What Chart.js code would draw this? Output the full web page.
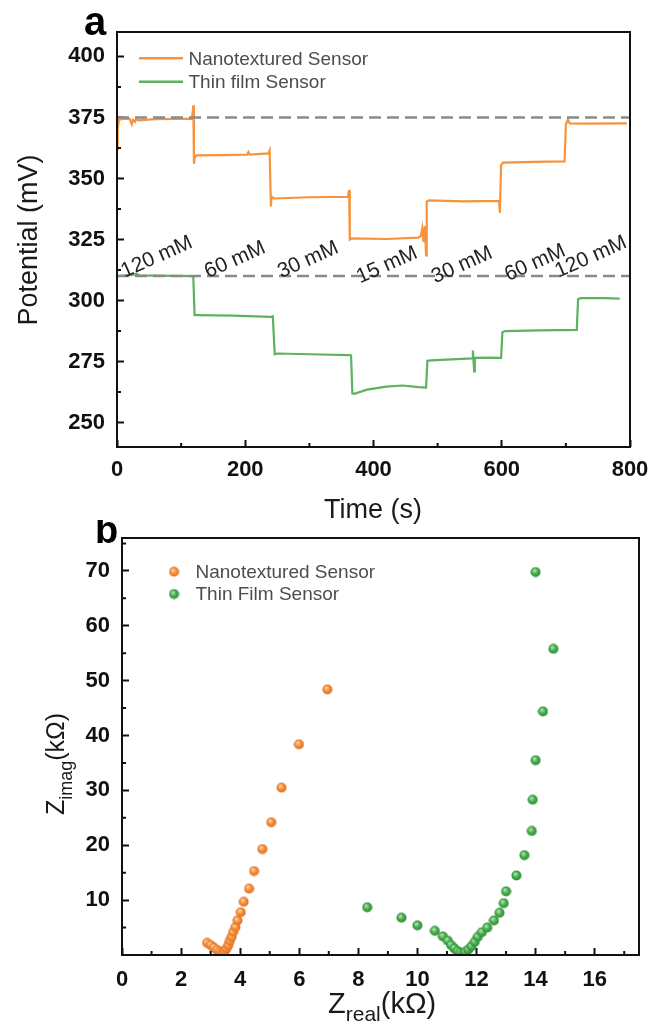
<!DOCTYPE html>
<html>
<head>
<meta charset="utf-8">
<script src="https://cdn.jsdelivr.net/npm/chart.js@4.4.1/dist/chart.umd.min.js"></script>
<style>
  html, body { margin: 0; padding: 0; background: #fff; }
  body { width: 649px; height: 1026px; position: relative; overflow: hidden; }
  canvas { position: absolute; left: 0; }
  #potential { top: 0; }
  #nyquist { top: 520px; }
</style>
</head>
<body>
<canvas id="potential" width="649" height="530"></canvas>
<canvas id="nyquist" width="649" height="506"></canvas>
<script>
// (a) potential vs time while stepping the concentration
const nanoTime = [0, 1, 3, 10, 20, 23, 25, 28, 30, 33, 60, 117, 119, 120, 121, 124, 160, 203, 205, 207,
  236, 238, 240, 241, 245, 300, 360, 362, 363, 366, 420, 470, 474, 476, 478, 480, 482, 483, 486, 540,
  596, 597, 599, 602, 650, 698, 700, 703, 706, 730, 795];
const nanoPotential = [362, 370, 374, 374.5, 374.3, 372.2, 374, 373.2, 374.6, 373.8, 374.3, 374.5, 380, 356, 358.5, 359.5, 359.6, 359.8, 360.8, 359.8,
  360.3, 361.5, 338.5, 342.5, 341.8, 342.3, 342.5, 345.3, 325, 325.5, 325.2, 325.8, 326.5, 329.5, 324, 330.5, 318.5, 340.5, 341, 340.6,
  340.8, 336, 355.5, 356.5, 356.8, 357, 372, 374.2, 372.6, 372.5, 372.6];
const thinTime = [0, 25, 30, 35, 117, 119, 121, 124, 180, 241, 243, 246, 250, 300, 363, 365, 367, 370, 390, 420,
  445, 470, 482, 484, 490, 530, 554, 555, 557, 558, 580, 599, 601, 605, 660, 717, 719, 723, 760, 784];
const thinPotential = [310, 310.5, 311, 310.3, 310, 309.5, 294, 294, 293.8, 293.3, 293.5, 278, 278.3, 278, 277.6, 277.5, 262, 261.8, 263.5, 264.7,
  265.2, 264.5, 264.3, 275.3, 275.5, 276, 276.3, 279.5, 271, 276.5, 276.6, 276.5, 287, 287.5, 287.8, 288, 300.5, 301, 301, 300.8];
const baselineLevels = [375, 310];
const stepLabels = ['120 mM', '60 mM', '30 mM', '15 mM', '30 mM', '60 mM', '120 mM'];
const stepLabelTime = [62, 184, 298, 421, 538, 652, 739];
const stepLabelPotential = [317.8, 316.6, 316.6, 314.5, 314.5, 315.4, 317.8];
const timeTicks = [0, 200, 400, 600, 800];
const potentialTicks = [250, 275, 300, 325, 350, 375, 400];

// (b) Nyquist plots
const nanoZreal = [2.88, 3.00, 3.11, 3.22, 3.31, 3.38, 3.43, 3.48, 3.54, 3.60, 3.65, 3.71, 3.76, 3.84, 3.91, 4.02, 4.12, 4.30, 4.47, 4.75, 5.05, 5.40, 5.99, 6.95];
const nanoZimag = [2.2, 1.8, 1.35, 0.9, 0.55, 0.35, 0.4, 0.7, 1.2, 1.8, 2.6, 3.3, 4.2, 5.1, 6.3, 7.8, 9.7, 12.1, 15.3, 19.3, 24.2, 30.5, 38.4, 48.4];
const thinZreal = [8.30, 9.46, 10.00, 10.59, 10.86, 11.03, 11.14, 11.25, 11.36, 11.45, 11.55, 11.62, 11.72, 11.83, 11.94, 12.04, 12.18, 12.36, 12.59, 12.78,
  12.92, 13.00, 13.35, 13.62, 13.87, 13.90, 14.00, 14.25, 14.60, 14.00];
const thinZimag = [8.7, 6.8, 5.4, 4.4, 3.4, 2.6, 1.8, 1.2, 0.7, 0.4, 0.3, 0.55, 1.0, 1.6, 2.4, 3.3, 4.15, 5.0, 6.3, 7.7,
  9.45, 11.6, 14.5, 18.2, 22.6, 28.3, 35.5, 44.4, 55.8, 69.8];
const zRealTicks = [0, 2, 4, 6, 8, 10, 12, 14, 16];
const zImagTicks = [10, 20, 30, 40, 50, 60, 70];

const FONT = "'Liberation Sans', Arial, sans-serif";
const ORANGE = '#f7933c';
const GREEN = '#5cb25e';

function pairs(xs, ys) {
  return xs.map((x, i) => ({ x: x, y: ys[i] }));
}

// small shaded ball used as the scatter marker
function ball(light, base, dark) {
  const c = document.createElement('canvas');
  c.width = c.height = 11;
  const g = c.getContext('2d');
  const grad = g.createRadialGradient(4.2, 3.8, 0.4, 5.5, 5.5, 5.6);
  grad.addColorStop(0, light);
  grad.addColorStop(0.5, base);
  grad.addColorStop(1, dark);
  g.fillStyle = grad;
  g.beginPath();
  g.arc(5.5, 5.5, 5, 0, Math.PI * 2);
  g.fill();
  return c;
}
const orangeBall = ball('#ffd2a8', '#f28a36', '#dc6e22');
const greenBall = ball('#b0e4b0', '#45aa4a', '#2a8a30');

function axis(min, max, tickValues, size, pad) {
  return {
    type: 'linear',
    min: min,
    max: max,
    ticks: {
      autoSkip: false,
      maxRotation: 0,
      padding: pad,
      color: '#111',
      font: { family: FONT, size: 22, weight: 'bold' }
    },
    grid: { drawOnChartArea: false, tickLength: -7, tickWidth: 2, tickColor: '#111' },
    border: { display: false },
    afterBuildTicks: function (s) {
      s.ticks = tickValues.map(v => ({ value: v }));
    },
    afterFit: function (s) {
      if (s.isHorizontal()) s.height = size; else s.width = size;
      s.paddingLeft = s.paddingRight = s.paddingTop = s.paddingBottom = 0;
    }
  };
}

// box around the plot area plus the short minor ticks
const framePlugin = {
  id: 'frame',
  afterDatasetsDraw(chart, args, opts) {
    const { ctx, chartArea: a } = chart;
    const x = chart.scales.x, y = chart.scales.y;
    ctx.save();
    ctx.strokeStyle = '#111';
    ctx.lineWidth = 2;
    ctx.beginPath();
    for (let v = opts.minorX[0]; v < x.max; v += opts.minorX[1]) {
      const px = x.getPixelForValue(v);
      ctx.moveTo(px, a.bottom);
      ctx.lineTo(px, a.bottom - 4);
    }
    for (let v = opts.minorY[0]; v < y.max; v += opts.minorY[1]) {
      const py = y.getPixelForValue(v);
      ctx.moveTo(a.left, py);
      ctx.lineTo(a.left + 4, py);
    }
    ctx.stroke();
    ctx.strokeRect(a.left, a.top, a.right - a.left, a.bottom - a.top);
    ctx.restore();
  }
};

// legend drawn inside the plot area
const insetLegend = {
  id: 'insetLegend',
  afterDraw(chart, args, opts) {
    const { ctx, chartArea: a } = chart;
    ctx.save();
    ctx.font = '19px ' + FONT;
    ctx.fillStyle = '#4d4d4d';
    ctx.textBaseline = 'middle';
    opts.items.forEach((idx, i) => {
      const ds = chart.data.datasets[idx];
      const yy = a.top + opts.y + i * opts.dy;
      if (opts.kind === 'line') {
        ctx.strokeStyle = ds.borderColor;
        ctx.lineWidth = 2.5;
        ctx.beginPath();
        ctx.moveTo(a.left + opts.x0, yy);
        ctx.lineTo(a.left + opts.x1, yy);
        ctx.stroke();
      } else {
        const img = ds.pointStyle;
        ctx.drawImage(img, a.left + opts.x0 - img.width / 2, yy - img.height / 2);
      }
      ctx.fillText(ds.label, a.left + opts.textX, yy + 1);
    });
    ctx.restore();
  }
};

// free text: panel letters and axis titles (with subscripts)
const panelText = {
  id: 'panelText',
  afterDraw(chart, args, opts) {
    const ctx = chart.ctx;
    opts.items.forEach(it => {
      ctx.save();
      ctx.translate(it.x, it.y);
      if (it.rotate) ctx.rotate(it.rotate);
      ctx.fillStyle = it.color || '#1a1a1a';
      ctx.textBaseline = 'alphabetic';
      ctx.textAlign = it.align || 'left';
      let cx = 0;
      it.parts.forEach(p => {
        ctx.font = p.font;
        ctx.fillText(p.text, cx, p.dy || 0);
        cx += ctx.measureText(p.text).width;
      });
      ctx.restore();
    });
  }
};

// rotated concentration labels placed in data coordinates
const stepLabelPlugin = {
  id: 'stepLabels',
  afterDatasetsDraw(chart) {
    const { ctx } = chart;
    const x = chart.scales.x, y = chart.scales.y;
    ctx.save();
    ctx.font = '21px ' + FONT;
    ctx.fillStyle = '#222';
    ctx.textAlign = 'center';
    ctx.textBaseline = 'middle';
    stepLabels.forEach((txt, i) => {
      ctx.save();
      ctx.translate(x.getPixelForValue(stepLabelTime[i]), y.getPixelForValue(stepLabelPotential[i]));
      ctx.rotate(-24 * Math.PI / 180);
      ctx.fillText(txt, 0, 0);
      ctx.restore();
    });
    ctx.restore();
  }
};

Chart.register(framePlugin, insetLegend, panelText, stepLabelPlugin);

new Chart(document.getElementById('potential'), {
  type: 'line',
  data: {
    datasets: baselineLevels.map(v => ({
      label: 'baseline',
      data: [{ x: 0, y: v }, { x: 800, y: v }],
      borderColor: '#8a8a8a',
      borderDash: [12, 6],
      borderWidth: 2.5,
      pointRadius: 0
    })).concat([
      {
        label: 'Nanotextured Sensor',
        data: pairs(nanoTime, nanoPotential),
        borderColor: ORANGE,
        borderWidth: 2.2,
        pointRadius: 0
      },
      {
        label: 'Thin film Sensor',
        data: pairs(thinTime, thinPotential),
        borderColor: GREEN,
        borderWidth: 2.2,
        pointRadius: 0
      }
    ])
  },
  options: {
    responsive: false,
    animation: false,
    layout: { padding: { left: 0, top: 32, right: 19, bottom: 0 } },
    scales: {
      x: axis(0, 800, timeTicks, 83, 17),
      y: axis(240, 410, potentialTicks, 117, 19)
    },
    plugins: {
      legend: { display: false },
      tooltip: { enabled: false },
      frame: { minorX: [100, 200], minorY: [262.5, 25] },
      stepLabels: {},
      insetLegend: { kind: 'line', items: [2, 3], x0: 22, x1: 66, textX: 71.5, y: 26.3, dy: 23.4 },
      panelText: {
        items: [
          { x: 84, y: 35, parts: [{ text: 'a', font: 'bold 40px ' + FONT }], color: '#000' },
          { x: 373, y: 518, align: 'center', parts: [{ text: 'Time (s)', font: '27px ' + FONT }] },
          { x: 37, y: 240, rotate: -Math.PI / 2, align: 'center', parts: [{ text: 'Potential (mV)', font: '27px ' + FONT }] }
        ]
      }
    }
  }
});

new Chart(document.getElementById('nyquist'), {
  type: 'scatter',
  data: {
    datasets: [
      {
        label: 'Nanotextured Sensor',
        data: pairs(nanoZreal, nanoZimag),
        pointStyle: orangeBall,
        pointRadius: 5
      },
      {
        label: 'Thin Film Sensor',
        data: pairs(thinZreal, thinZimag),
        pointStyle: greenBall,
        pointRadius: 5
      }
    ]
  },
  options: {
    responsive: false,
    animation: false,
    layout: { padding: { left: 0, top: 18, right: 10, bottom: 0 } },
    scales: {
      x: axis(0, 17.5, zRealTicks, 71, 19),
      y: axis(0, 76, zImagTicks, 122, 19)
    },
    plugins: {
      legend: { display: false },
      tooltip: { enabled: false },
      frame: { minorX: [1, 2], minorY: [5, 10] },
      insetLegend: { kind: 'point', items: [0, 1], x0: 52, textX: 73.5, y: 33.7, dy: 22.3 },
      panelText: {
        items: [
          { x: 95, y: 23, parts: [{ text: 'b', font: 'bold 38px ' + FONT }], color: '#000' },
          { x: 328, y: 493, parts: [
            { text: 'Z', font: '29px ' + FONT },
            { text: 'real', font: '21px ' + FONT, dy: 8 },
            { text: '(k\u03A9)', font: '29px ' + FONT }
          ] },
          { x: 64, y: 295, rotate: -Math.PI / 2, parts: [
            { text: 'Z', font: '25px ' + FONT },
            { text: 'imag', font: '18px ' + FONT, dy: 8 },
            { text: '(k\u03A9)', font: '25px ' + FONT }
          ] }
        ]
      }
    }
  }
});
</script>
</body>
</html>
